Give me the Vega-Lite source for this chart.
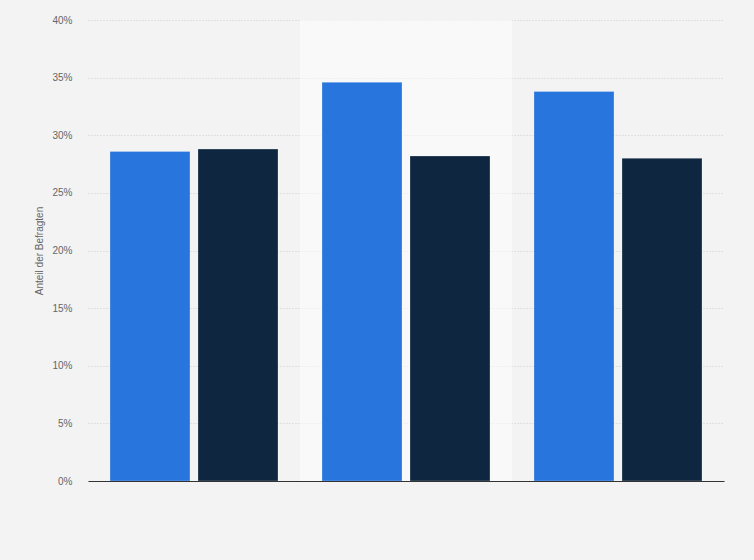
{
  "$schema": "https://vega.github.io/schema/vega-lite/v6.json",
  "description": "Gruppiertes Balkendiagramm, Anteil der Befragten",
  "width": 636,
  "height": 461,
  "autosize": "none",
  "padding": {"left": 88, "top": 20, "right": 30, "bottom": 79},
  "background": "#f3f3f3",
  "data": {
    "values": [
      {"gruppe": "Gruppe 1", "serie": "Serie 1", "anteil": 28.6},
      {"gruppe": "Gruppe 1", "serie": "Serie 2", "anteil": 28.8},
      {"gruppe": "Gruppe 2", "serie": "Serie 1", "anteil": 34.6},
      {"gruppe": "Gruppe 2", "serie": "Serie 2", "anteil": 28.2},
      {"gruppe": "Gruppe 3", "serie": "Serie 1", "anteil": 33.8},
      {"gruppe": "Gruppe 3", "serie": "Serie 2", "anteil": 28.0}
    ]
  },
  "encoding": {
    "x": {
      "field": "gruppe",
      "type": "nominal",
      "scale": {"paddingInner": 0, "paddingOuter": 0},
      "axis": {"labels": false, "ticks": false, "title": null, "grid": false, "domainColor": "#333333", "domainWidth": 1.2}
    }
  },
  "layer": [
    {
      "transform": [{"filter": "datum.serie === 'Serie 1' && datum.gruppe === 'Gruppe 2'"}],
      "mark": {"type": "rect", "fill": "#ffffff", "opacity": 0.5},
      "encoding": {
        "y": {"datum": 0, "type": "quantitative"},
        "y2": {"datum": 40}
      }
    },
    {
      "mark": {"type": "bar", "stroke": "#ffffff", "strokeOpacity": 0.25, "strokeWidth": 1},
      "encoding": {
        "xOffset": {
          "field": "serie",
          "type": "nominal",
          "scale": {"paddingInner": 0.0909, "paddingOuter": 0.25}
        },
        "y": {
          "field": "anteil",
          "type": "quantitative",
          "scale": {"domain": [0, 40]},
          "axis": {
            "values": [0, 5, 10, 15, 20, 25, 30, 35, 40],
            "labelExpr": "datum.value + '%'",
            "title": "Anteil der Befragten"
          }
        },
        "color": {
          "field": "serie",
          "type": "nominal",
          "scale": {"range": ["#2876dd", "#0f2640"]},
          "legend": null
        }
      }
    }
  ],
  "config": {
    "view": {"stroke": null},
    "font": "Liberation Sans",
    "axis": {
      "labelFont": "Liberation Sans",
      "labelFontSize": 10,
      "labelColor": "#666666",
      "titleFont": "Liberation Sans",
      "titleFontSize": 10,
      "titleFontWeight": "normal",
      "titleColor": "#666666"
    },
    "axisY": {
      "domain": false,
      "ticks": false,
      "grid": true,
      "gridColor": "#cccccc",
      "gridDash": [1, 2],
      "labelPadding": 16,
      "titlePadding": 7
    }
  }
}
